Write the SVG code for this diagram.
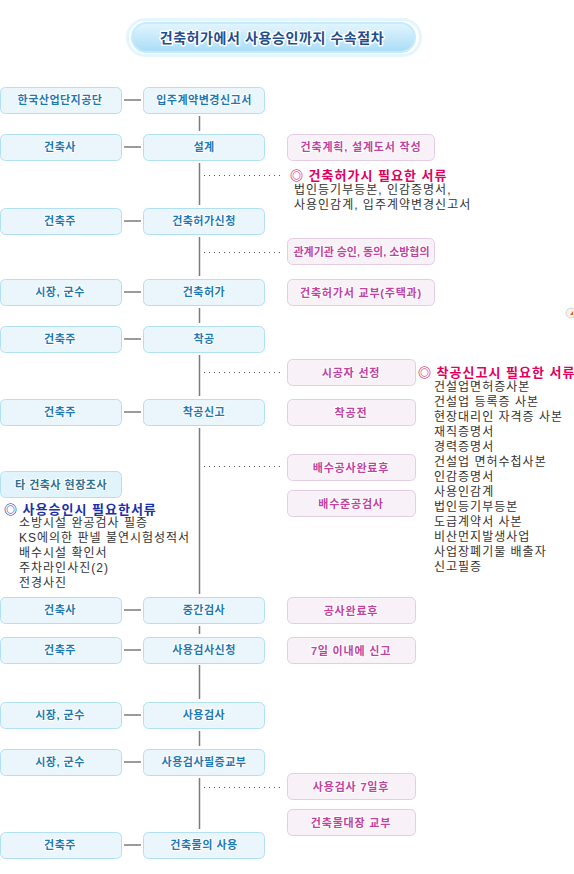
<svg xmlns="http://www.w3.org/2000/svg" width="574" height="874" viewBox="0 0 574 874">
<defs>
<linearGradient id="tg" x1="0" y1="0" x2="0" y2="1">
<stop offset="0" stop-color="#e2f6ff"/>
<stop offset="1" stop-color="#a9dcf6"/>
</linearGradient>
<style>
text{font-family:"Liberation Sans","Noto Sans CJK KR",sans-serif;dominant-baseline:central}
.b rect{fill:#eaf6fc;stroke:#b2e0f3;stroke-width:1}
.b text{font-size:11px;font-weight:bold;fill:#1b7ab3;text-anchor:middle;stroke:#fff;stroke-width:2;paint-order:stroke;stroke-linejoin:round;letter-spacing:0.5px}
.p rect{fill:#f8f1f8;stroke:#e3cde3;stroke-width:1}
.p text{font-size:11px;font-weight:bold;fill:#c1429f;text-anchor:middle;stroke:#fff;stroke-width:2;paint-order:stroke;stroke-linejoin:round;letter-spacing:0.8px}
.ln{stroke:#7a7a7a;stroke-width:1.5;fill:none}
.dt{stroke:#555;stroke-width:1;stroke-dasharray:1 4;fill:none}
.hr{font-size:13px;font-weight:bold;fill:#e0005e;letter-spacing:1px}
.hb{font-size:13px;font-weight:bold;fill:#1a2ea8;letter-spacing:1px}
.li{font-size:12px;fill:#333;letter-spacing:1px}
</style>
</defs>
<rect width="574" height="874" fill="#fff"/>

<g id="title">
<rect x="127.5" y="19.5" width="293" height="36" rx="18" fill="none" stroke="#e4f6fd" stroke-width="3"/>
<rect x="132" y="23" width="283" height="29" rx="14.5" fill="url(#tg)" stroke="#c6ebfb" stroke-width="2"/>
<text x="272" y="37.5" text-anchor="middle" style="font-size:14px;font-weight:bold;fill:#1e4f8c;stroke:#fff;stroke-width:3;paint-order:stroke;stroke-linejoin:round;letter-spacing:0.6px">건축허가에서 사용승인까지 수속절차</text>
</g>

<g id="connectors">
<line class="ln" x1="124" y1="100" x2="141" y2="100"/>
<line class="ln" x1="124" y1="147" x2="141" y2="147"/>
<line class="ln" x1="124" y1="221" x2="141" y2="221"/>
<line class="ln" x1="124" y1="292" x2="141" y2="292"/>
<line class="ln" x1="124" y1="339" x2="141" y2="339"/>
<line class="ln" x1="124" y1="412" x2="141" y2="412"/>
<line class="ln" x1="124" y1="610" x2="141" y2="610"/>
<line class="ln" x1="124" y1="650" x2="141" y2="650"/>
<line class="ln" x1="124" y1="715" x2="141" y2="715"/>
<line class="ln" x1="124" y1="762" x2="141" y2="762"/>
<line class="ln" x1="124" y1="845" x2="141" y2="845"/>
<line class="ln" x1="199.5" y1="116" x2="199.5" y2="131"/>
<line class="ln" x1="199.5" y1="163" x2="199.5" y2="205"/>
<line class="ln" x1="199.5" y1="237" x2="199.5" y2="276"/>
<line class="ln" x1="199.5" y1="308" x2="199.5" y2="323"/>
<line class="ln" x1="199.5" y1="355" x2="199.5" y2="396"/>
<line class="ln" x1="199.5" y1="428" x2="199.5" y2="594"/>
<line class="ln" x1="199.5" y1="626" x2="199.5" y2="634"/>
<line class="ln" x1="199.5" y1="665" x2="199.5" y2="699"/>
<line class="ln" x1="199.5" y1="731" x2="199.5" y2="746"/>
<line class="ln" x1="199.5" y1="778" x2="199.5" y2="829"/>
<line class="dt" x1="204" y1="175.5" x2="284" y2="175.5"/>
<line class="dt" x1="204" y1="252.5" x2="284" y2="252.5"/>
<line class="dt" x1="204" y1="372.5" x2="284" y2="372.5"/>
<line class="dt" x1="204" y1="466.5" x2="284" y2="466.5"/>
<line class="dt" x1="204" y1="787.5" x2="284" y2="787.5"/>
</g>

<g id="n1a" class="b"><rect x="0.5" y="87.5" width="121" height="26" rx="5"/><text x="60" y="100">한국산업단지공단</text></g>
<g id="n1b" class="b"><rect x="143.5" y="87.5" width="121" height="26" rx="5"/><text x="204" y="100">입주계약변경신고서</text></g>
<g id="n2a" class="b"><rect x="0.5" y="134.5" width="121" height="26" rx="5"/><text x="60" y="147">건축사</text></g>
<g id="n2b" class="b"><rect x="143.5" y="134.5" width="121" height="26" rx="5"/><text x="204" y="147">설계</text></g>
<g id="n2c" class="p"><rect x="287.5" y="134.5" width="147" height="26" rx="5"/><text x="361" y="147">건축계획, 설계도서 작성</text></g>

<g id="note1">
<text class="hr" x="290" y="175">◎ 건축허가시 필요한 서류</text>
<text class="li" x="294" y="190">법인등기부등본, 인감증명서,</text>
<text class="li" x="294" y="205">사용인감계, 입주계약변경신고서</text>
</g>

<g id="n3a" class="b"><rect x="0.5" y="208.5" width="121" height="26" rx="5"/><text x="60" y="221">건축주</text></g>
<g id="n3b" class="b"><rect x="143.5" y="208.5" width="121" height="26" rx="5"/><text x="204" y="221">건축허가신청</text></g>
<g id="n3c" class="p"><rect x="287.5" y="238.5" width="147" height="26" rx="5"/><text x="361.5" y="251.5" textLength="136" lengthAdjust="spacingAndGlyphs" style="letter-spacing:0">관계기관 승인, 동의, 소방협의</text></g>

<g id="n4a" class="b"><rect x="0.5" y="279.5" width="121" height="26" rx="5"/><text x="60" y="292">시장, 군수</text></g>
<g id="n4b" class="b"><rect x="143.5" y="279.5" width="121" height="26" rx="5"/><text x="204" y="292">건축허가</text></g>
<g id="n4c" class="p"><rect x="287.5" y="279.5" width="147" height="26" rx="5"/><text x="361" y="292.5">건축허가서 교부(주택과)</text></g>

<g id="n5a" class="b"><rect x="0.5" y="326.5" width="121" height="26" rx="5"/><text x="60" y="339">건축주</text></g>
<g id="n5b" class="b"><rect x="143.5" y="326.5" width="121" height="26" rx="5"/><text x="204" y="339">착공</text></g>
<g id="n5c" class="p"><rect x="287.5" y="359.5" width="128" height="26" rx="5"/><text x="351" y="372.5">시공자 선정</text></g>

<g id="note2">
<text class="hr" x="418" y="372">◎ 착공신고시 필요한 서류</text>
<text class="li" x="434" y="387">건설업면허증사본</text>
<text class="li" x="434" y="402">건설업 등록증 사본</text>
<text class="li" x="434" y="417">현장대리인 자격증 사본</text>
<text class="li" x="434" y="432">재직증명서</text>
<text class="li" x="434" y="447">경력증명서</text>
<text class="li" x="434" y="462">건설업 면허수첩사본</text>
<text class="li" x="434" y="477">인감증명서</text>
<text class="li" x="434" y="492">사용인감계</text>
<text class="li" x="434" y="507">법인등기부등본</text>
<text class="li" x="434" y="522">도급계약서 사본</text>
<text class="li" x="434" y="537">비산먼지발생사업</text>
<text class="li" x="434" y="552">사업장폐기물 배출자</text>
<text class="li" x="434" y="567">신고필증</text>
</g>

<g id="n6a" class="b"><rect x="0.5" y="399.5" width="121" height="26" rx="5"/><text x="60" y="412">건축주</text></g>
<g id="n6b" class="b"><rect x="143.5" y="399.5" width="121" height="26" rx="5"/><text x="204" y="412">착공신고</text></g>
<g id="n6c" class="p"><rect x="287.5" y="399.5" width="128" height="26" rx="5"/><text x="351" y="412.5">착공전</text></g>
<g id="n6d" class="p"><rect x="287.5" y="454.5" width="128" height="26" rx="5"/><text x="351" y="467.5">배수공사완료후</text></g>
<g id="n6e" class="p"><rect x="287.5" y="490.5" width="128" height="26" rx="5"/><text x="351" y="503.5">배수준공검사</text></g>

<g id="n6f" class="b"><rect x="0.5" y="471.5" width="121" height="26" rx="5" style="fill:#e2f4fb"/><text x="61" y="484.5" style="fill:#2f6f8f">타 건축사 현장조사</text></g>

<g id="note3">
<text class="hb" x="4" y="509">◎ 사용승인시 필요한서류</text>
<text class="li" x="19" y="523">소방시설 완공검사 필증</text>
<text class="li" x="19" y="538">KS에의한 판넬 불연시험성적서</text>
<text class="li" x="19" y="553">배수시설 확인서</text>
<text class="li" x="19" y="568">주차라인사진(2)</text>
<text class="li" x="19" y="583">전경사진</text>
</g>

<g id="n7a" class="b"><rect x="0.5" y="597.5" width="121" height="26" rx="5"/><text x="60" y="610">건축사</text></g>
<g id="n7b" class="b"><rect x="143.5" y="597.5" width="121" height="26" rx="5"/><text x="204" y="610">중간검사</text></g>
<g id="n7c" class="p"><rect x="287.5" y="597.5" width="128" height="26" rx="5"/><text x="351" y="610.5">공사완료후</text></g>

<g id="n8a" class="b"><rect x="0.5" y="637.5" width="121" height="26" rx="5"/><text x="60" y="650">건축주</text></g>
<g id="n8b" class="b"><rect x="143.5" y="637.5" width="121" height="26" rx="5"/><text x="204" y="650">사용검사신청</text></g>
<g id="n8c" class="p"><rect x="287.5" y="637.5" width="128" height="26" rx="5"/><text x="351" y="650.5">7일 이내에 신고</text></g>

<g id="n9a" class="b"><rect x="0.5" y="702.5" width="121" height="26" rx="5"/><text x="60" y="715">시장, 군수</text></g>
<g id="n9b" class="b"><rect x="143.5" y="702.5" width="121" height="26" rx="5"/><text x="204" y="715">사용검사</text></g>

<g id="n10a" class="b"><rect x="0.5" y="749.5" width="121" height="26" rx="5"/><text x="60" y="762">시장, 군수</text></g>
<g id="n10b" class="b"><rect x="143.5" y="749.5" width="121" height="26" rx="5"/><text x="204" y="762">사용검사필증교부</text></g>
<g id="n10c" class="p"><rect x="287.5" y="773.5" width="128" height="26" rx="5"/><text x="351" y="786.5">사용검사 7일후</text></g>
<g id="n10d" class="p"><rect x="287.5" y="809.5" width="128" height="26" rx="5"/><text x="351" y="822.5">건축물대장 교부</text></g>

<g id="n11a" class="b"><rect x="0.5" y="832.5" width="121" height="26" rx="5"/><text x="60" y="845">건축주</text></g>
<g id="n11b" class="b"><rect x="143.5" y="832.5" width="121" height="26" rx="5"/><text x="204" y="845">건축물의 사용</text></g>

<g id="icon">
<circle cx="571" cy="313" r="5" fill="#f2f2f2" stroke="#d8d8d8"/>
<path d="M570 315 L573 311 L573 315 Z" fill="#f06010"/>
</g>
</svg>
